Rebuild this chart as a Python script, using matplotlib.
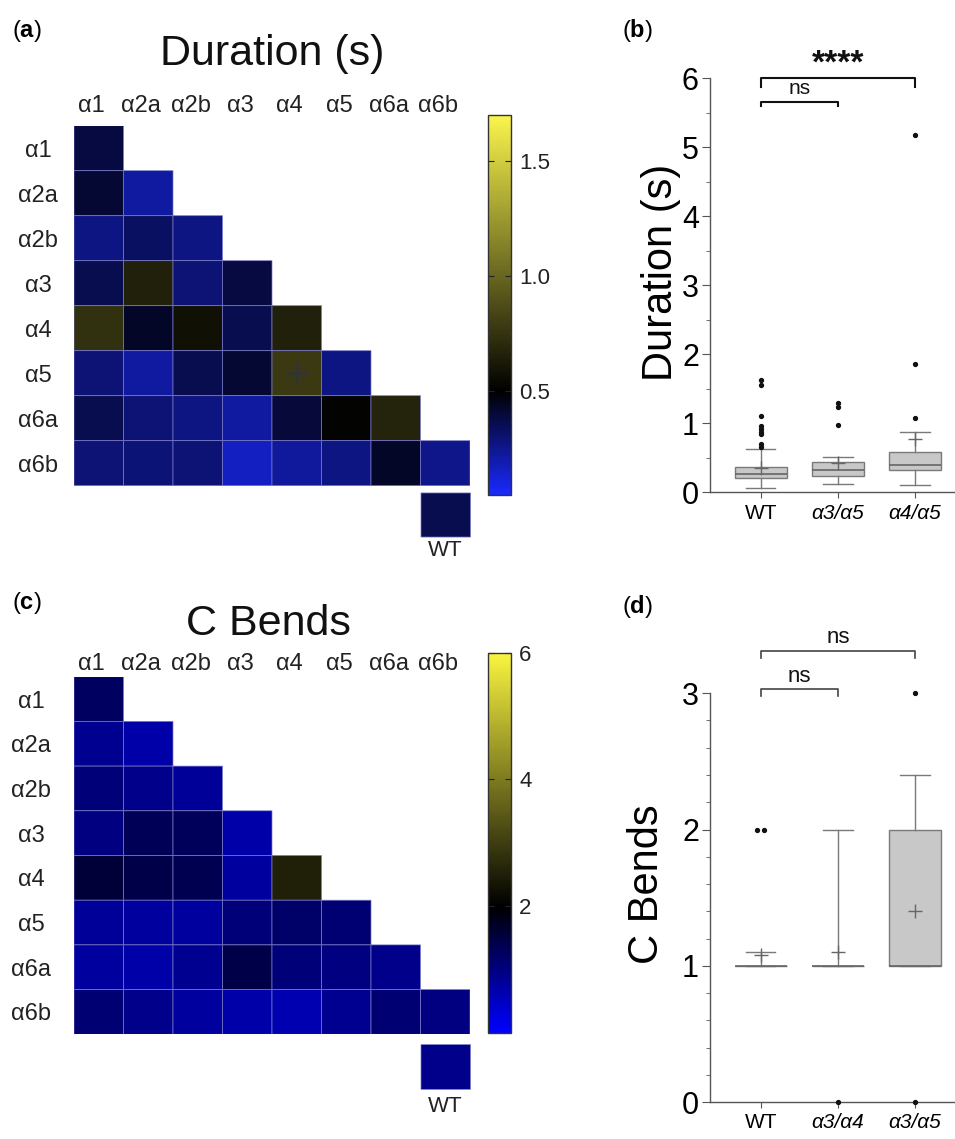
import numpy as np
import matplotlib
matplotlib.use("Agg")
import matplotlib.pyplot as plt
from matplotlib.colors import LinearSegmentedColormap, Normalize
from matplotlib.cm import ScalarMappable

plt.rcParams['font.family'] = ['Liberation Sans', 'DejaVu Sans']
plt.rcParams['mathtext.fontset'] = 'custom'
plt.rcParams['mathtext.rm'] = 'Liberation Sans'
plt.rcParams['mathtext.bf'] = 'Liberation Sans:bold'

# ---- data ----
SUBUNITS = ['α1', 'α2a', 'α2b', 'α3', 'α4', 'α5', 'α6a', 'α6b']

# lower triangle, one row per subunit
duration_rows = [
    [0.39],
    [0.415, 0.22],
    [0.275, 0.33, 0.275],
    [0.36, 0.66, 0.30, 0.39],
    [0.74, 0.435, 0.58, 0.36, 0.66],
    [0.30, 0.22, 0.36, 0.415, 0.78, 0.275],
    [0.36, 0.30, 0.275, 0.22, 0.40, 0.52, 0.67],
    [0.30, 0.29, 0.30, 0.16, 0.23, 0.275, 0.435, 0.26],
]
duration_wt = 0.36

cbends_rows = [
    [1.25],
    [0.87, 0.68],
    [1.06, 0.93, 0.81],
    [1.0, 1.33, 1.31, 0.68],
    [1.56, 1.44, 1.37, 0.75, 2.52],
    [0.81, 0.75, 0.75, 1.06, 1.18, 1.12],
    [0.75, 0.68, 0.87, 1.44, 1.06, 1.0, 0.93],
    [1.12, 0.93, 0.75, 0.68, 0.62, 0.87, 1.12, 1.0],
]
cbends_wt = 0.93

dur_groups = ['WT', 'α3/α5', 'α4/α5']
dur_q1 = [0.21, 0.24, 0.33]
dur_med = [0.27, 0.32, 0.39]
dur_q3 = [0.37, 0.44, 0.58]
dur_lo = [0.06, 0.12, 0.11]
dur_hi = [0.63, 0.51, 0.87]
dur_mean = [0.35, 0.42, 0.78]
dur_fliers = [[1.63, 1.55, 1.10, 0.96, 0.92, 0.87, 0.84, 0.70, 0.66],
              [1.29, 1.24, 0.97],
              [5.17, 1.86, 1.07]]

cb_groups = ['WT', 'α3/α4', 'α3/α5']
cb_q1 = [1.0, 1.0, 1.0]
cb_med = [1.0, 1.0, 1.0]
cb_q3 = [1.0, 1.0, 2.0]
cb_lo = [1.0, 1.0, 1.0]
cb_hi = [1.1, 2.0, 2.4]
cb_mean = [1.08, 1.1, 1.4]
cb_fliers = [[2.0, 2.0], [0.0], [3.0, 0.0]]

W, H = 955, 1139
fig = plt.figure(figsize=(W / 100, H / 100), dpi=100)


def px_rect(x0, y0, x1, y1):
    """pixel box (top-left origin) -> figure fraction rect"""
    return [x0 / W, 1 - y1 / H, (x1 - x0) / W, (y1 - y0) / H]


def bky_cmap(lo, hi, vmin, vmid, vmax):
    pos = (vmid - vmin) / (vmax - vmin)
    return LinearSegmentedColormap.from_list('bky', [(0, lo), (pos, (0, 0, 0)), (1, hi)])


def heatmap(rect, rows, wt, cmap, norm, wt_top, wt_bot, wt_lab, xpad, ypad):
    ax = fig.add_axes(rect)
    n = len(SUBUNITS)
    M = np.full((n, n), np.nan)
    for i, r in enumerate(rows):
        M[i, :len(r)] = r
    M = np.ma.masked_invalid(M)
    ax.pcolor(np.arange(n + 1), np.arange(n + 1), M, cmap=cmap, norm=norm,
              edgecolors='#7a7ac8', linewidth=0.5)
    c = ax.pcolor([n - 1, n], [wt_top, wt_bot], np.array([[wt]]), cmap=cmap, norm=norm,
                  edgecolors='#7a7ac8', linewidth=0.5)
    c.set_clip_on(False)
    ax.text(n - 0.5, wt_lab, 'WT', ha='center', va='center', fontsize=16, color='#222')
    ax.set_xlim(0, n)
    ax.set_ylim(n, 0)
    ax.set_frame_on(False)
    ax.xaxis.tick_top()
    ax.set_xticks(np.arange(n) + 0.36)
    ax.set_xticklabels(SUBUNITS, fontsize=17, color='#222')
    ax.set_yticks(np.arange(n) + 0.5)
    ax.set_yticklabels(SUBUNITS, fontsize=17, color='#222')
    for lbl in ax.get_yticklabels():
        lbl.set_ha('center')
    ax.tick_params(axis='x', length=0, pad=xpad)
    ax.tick_params(axis='y', length=0, pad=ypad)
    return ax


def colorbar(rect, cmap, norm, ticks, fmt):
    cax = fig.add_axes(rect)
    cb = fig.colorbar(ScalarMappable(norm=norm, cmap=cmap), cax=cax, ticks=ticks, format=fmt)
    cb.outline.set_edgecolor('#333')
    cb.outline.set_linewidth(1)
    cax.tick_params(direction='in', left=True, right=True, length=4, width=0.8,
                    labelsize=16, pad=6, colors='#222')
    return cb


def boxes(rect, groups, q1, med, q3, lo, hi, mean, fliers, ylim, major, minor):
    ax = fig.add_axes(rect)
    stats = []
    for i in range(len(groups)):
        stats.append(dict(q1=q1[i], med=med[i], q3=q3[i], whislo=lo[i], whishi=hi[i],
                          mean=mean[i], fliers=[]))
    x = np.arange(len(groups))
    ax.bxp(stats, positions=x, widths=0.67, patch_artist=True, showmeans=True,
           showfliers=False, capwidths=0.38,
           boxprops=dict(facecolor='#c8c8c8', edgecolor='#7a7a7a', linewidth=1),
           medianprops=dict(color='#666666', linewidth=1.2),
           whiskerprops=dict(color='#7a7a7a', linewidth=1),
           capprops=dict(color='#7a7a7a', linewidth=1),
           meanprops=dict(marker='+', markeredgecolor='#666666', markersize=10,
                          markeredgewidth=1))
    for xi, fl in zip(x, fliers):
        vals = np.array(fl)
        offs = np.zeros(len(vals))
        for v in np.unique(vals):
            idx = np.where(vals == v)[0]
            if len(idx) > 1:
                offs[idx] = (np.arange(len(idx)) - (len(idx) - 1) / 2) * 0.09
        ax.plot(xi + offs, vals, 'o', color='#111', markersize=2.8, clip_on=False, zorder=5)
    ax.set_xlim(-0.66, 2.52)
    ax.set_ylim(*ylim)
    ax.set_yticks(major)
    ax.set_yticks(minor, minor=True)
    ax.set_xticks(x)
    ax.set_xticklabels(groups, fontsize=15)
    for lbl in ax.get_xticklabels()[1:]:
        lbl.set_style('italic')
    for s in ['top', 'right']:
        ax.spines[s].set_visible(False)
    for s in ['left', 'bottom']:
        ax.spines[s].set_color('#555')
        ax.spines[s].set_linewidth(1)
    ax.tick_params(axis='y', which='major', labelsize=22, length=6, color='#555', pad=2)
    ax.tick_params(axis='y', which='minor', length=3, color='#555')
    ax.tick_params(axis='x', length=4, color='#555', labelsize=15, pad=4)
    return ax


def bracket(ax, x0, x1, y, h, text, ty, fs, weight='normal', lw=1.5, color='#111'):
    ax.plot([x0, x0, x1, x1], [y - h, y, y, y - h], color=color, lw=lw, clip_on=False)
    ax.text((x0 + x1) / 2, ty, text, ha='center', va='baseline', fontsize=fs,
            fontweight=weight, color='#111', clip_on=False)


# ---- (a) duration heatmap ----
cmap_a = bky_cmap((0.1, 0.16, 1.0), (0.98, 0.96, 0.3), 0.05, 0.5, 1.7)
norm_a = Normalize(0.05, 1.7)
ax_a = heatmap(px_rect(74, 125.7, 470, 485.7), duration_rows, duration_wt, cmap_a, norm_a,
               8.15, 9.13, 9.43, 6, 26)
ax_a.plot(4.5, 5.5, marker='+', color='#333', markersize=16, markeredgewidth=2)
colorbar(px_rect(488, 115, 511, 495), cmap_a, norm_a, [0.5, 1.0, 1.5], '%.1f')
fig.text(272 / W, 1 - 65 / H, 'Duration (s)', ha='center', va='baseline', fontsize=31, color='#111')

# ---- (c) C bends heatmap ----
cmap_c = bky_cmap((0.0, 0.0, 1.0), (0.98, 0.96, 0.25), 0.0, 2.0, 6.0)
norm_c = Normalize(0.0, 6.0)
heatmap(px_rect(74, 676.7, 470, 1034.3), cbends_rows, cbends_wt, cmap_c, norm_c,
        8.22, 9.22, 9.62, 1, 31)
colorbar(px_rect(488, 652.7, 511, 1033), cmap_c, norm_c, [2, 4, 6], '%d')
fig.text(268 / W, 1 - 635 / H, 'C Bends', ha='center', va='baseline', fontsize=31, color='#111')

# ---- (b) duration box plot ----
ax_b = boxes(px_rect(710, 78, 955, 492.4), dur_groups, dur_q1, dur_med, dur_q3, dur_lo, dur_hi,
             dur_mean, dur_fliers, (0, 6), np.arange(0, 7), np.arange(0, 6.01, 0.5))
ax_b.set_ylabel('Duration (s)', fontsize=30)
ax_b.yaxis.set_label_coords(-0.12, 0.532)
bracket(ax_b, 0, 2, 6.0, 0.13, '****', 6.08, 24, weight='bold')
bracket(ax_b, 0, 1, 5.65, 0.06, 'ns', 5.77, 15)

# ---- (d) C bends box plot ----
ax_d = boxes(px_rect(710, 693.2, 955, 1102.3), cb_groups, cb_q1, cb_med, cb_q3, cb_lo, cb_hi,
             cb_mean, cb_fliers, (0, 3), np.arange(0, 4), np.arange(0, 3.01, 0.2))
ax_d.set_ylabel('C Bends', fontsize=30)
ax_d.yaxis.set_label_coords(-0.175, 0.533)
bracket(ax_d, 0, 2, 3.31, 0.055, 'ns', 3.37, 16, lw=1.2, color='#444')
bracket(ax_d, 0, 1, 3.03, 0.05, 'ns', 3.08, 16, lw=1.2, color='#444')

# ---- panel labels ----
for lab, x, y in [('a', 12, 31), ('b', 622, 30), ('c', 12, 603), ('d', 622, 606)]:
    fig.text(x / W, 1 - y / H, r'($\mathbf{%s}$)' % lab, ha='left', va='center', fontsize=17)

fig.savefig('out.png', dpi=100, facecolor='white')
